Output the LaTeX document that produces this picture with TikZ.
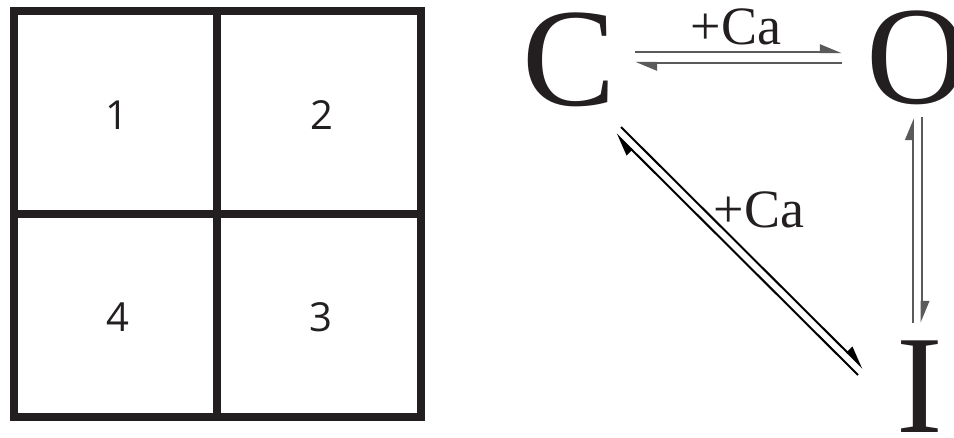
\documentclass[tikz,border=0pt]{standalone}
\usepackage{fontspec}
\setmainfont{Liberation Serif}
\newfontfamily\digitfont{Open Sans}
\usetikzlibrary{arrows.meta}
\definecolor{ink}{HTML}{231F20}
\definecolor{arrgray}{HTML}{5A5A5A}
\begin{document}
\begin{tikzpicture}[x=1pt,y=-1pt,
  gridline/.style={draw=ink,line width=8pt},
  num/.style={font=\digitfont\fontsize{40}{42}\selectfont,text=ink,inner sep=0pt},
  state/.style={font=\fontsize{140}{140}\selectfont,text=ink,inner sep=0pt},
  lbl/.style={font=\fontsize{54}{54}\selectfont,text=ink,inner sep=0pt},
  graypath/.style={draw=arrgray,line width=2.4pt,-{Triangle[harpoon,length=19pt,width=15pt]}},
  blackpath/.style={draw=black,line width=2pt,-{Triangle[harpoon,length=20pt,width=15pt]}}]
\useasboundingbox (0,0) rectangle (954,437);
% grid
\draw[gridline] (14,10.5) rectangle (421,416.5);
\draw[gridline] (217,10.5) -- (217,416.5);
\draw[gridline] (14,213.5) -- (421,213.5);
\node[num] (n1) at (117,115) {1};
\node[num] (n2) at (321.5,115) {2};
\node[num] (n4) at (117.5,317.5) {4};
\node[num] (n3) at (321,317) {3};
% states
\node[state] (C) at (569,60) {C};
\node[state] (O) at (917,58) {O};
\node[state] (I) at (920,387) {I};
% labels
\node[lbl] (l1) at (736,27) {+Ca};
\node[lbl] (l2) at (759,210) {+Ca};
% arrow end points
\coordinate (h1s) at (635,52);  \coordinate (h1e) at (842,52);
\coordinate (h2s) at (842,63);  \coordinate (h2e) at (635,63);
\coordinate (v1s) at (912.7,323); \coordinate (v1e) at (912.7,118);
\coordinate (v2s) at (921.7,117); \coordinate (v2e) at (921.7,323);
\coordinate (d1s) at (621,127); \coordinate (d1e) at (863,368);
\coordinate (d2s) at (858,375); \coordinate (d2e) at (616,134);
% arrows
\draw[graypath] (h1s) -- (h1e);
\draw[graypath] (h2s) -- (h2e);
\draw[graypath] (v1s) -- (v1e);
\draw[graypath] (v2s) -- (v2e);
\draw[blackpath] (d1s) -- (d1e);
\draw[blackpath] (d2s) -- (d2e);
\end{tikzpicture}
\end{document}
